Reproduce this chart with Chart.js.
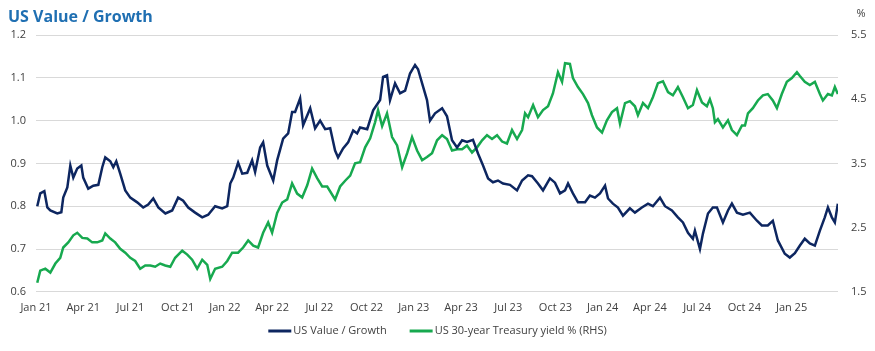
<!DOCTYPE html>
<html>
<head>
<meta charset="utf-8">
<title>US Value / Growth</title>
<script src="https://cdn.jsdelivr.net/npm/chart.js@4.4.0/dist/chart.umd.min.js"></script>
<style>
    html, body { margin: 0; padding: 0; background: #ffffff; }
    #chartWrap { width: 875px; height: 351px; }
</style>
</head>
<body>
<div id="chartWrap"><canvas id="valueGrowthChart" width="875" height="351"></canvas></div>
<script>
// Text
const chartTitle = 'US Value / Growth';
const rightUnit = '%';
const xTickLabels = ['Jan 21', 'Apr 21', 'Jul 21', 'Oct 21', 'Jan 22', 'Apr 22', 'Jul 22', 'Oct 22',
    'Jan 23', 'Apr 23', 'Jul 23', 'Oct 23', 'Jan 24', 'Apr 24', 'Jul 24', 'Oct 24', 'Jan 25'];
const seriesNames = ['US Value / Growth', 'US 30-year Treasury yield % (RHS)'];

// US Value / Growth ratio (x = months since Jan 2021)
const vgMonths = [
    0.08, 0.27, 0.53, 0.72, 0.91, 1.35, 1.61, 1.73, 1.99, 2.18,
    2.37, 2.62, 2.88, 3.00, 3.32, 3.64, 3.96, 4.21, 4.40, 4.72,
    4.91, 5.10, 5.35, 5.67, 5.99, 6.43, 6.81, 7.13, 7.45, 7.77,
    8.22, 8.65, 9.03, 9.35, 9.67, 10.11, 10.56, 10.94, 11.38, 11.83,
    12.15, 12.34, 12.53, 12.84, 13.10, 13.42, 13.73, 13.92, 14.24, 14.43,
    14.69, 15.07, 15.32, 15.70, 16.02, 16.27, 16.46, 16.78, 16.97, 17.42,
    17.73, 18.05, 18.37, 18.69, 19.00, 19.19, 19.51, 19.83, 20.15, 20.40,
    20.59, 21.04, 21.42, 21.86, 22.05, 22.30, 22.49, 22.81, 23.13, 23.45,
    23.76, 24.08, 24.27, 24.53, 24.84, 25.03, 25.35, 25.80, 26.11, 26.43,
    26.75, 27.07, 27.38, 27.76, 28.08, 28.40, 28.72, 29.03, 29.35, 29.67,
    30.11, 30.56, 30.88, 31.26, 31.51, 31.89, 32.21, 32.65, 32.97, 33.29,
    33.61, 33.80, 34.11, 34.43, 34.88, 35.19, 35.51, 35.83, 36.15, 36.34,
    36.65, 36.97, 37.29, 37.73, 38.05, 38.49, 38.88, 39.19, 39.64, 39.96,
    40.40, 40.78, 41.10, 41.42, 41.73, 41.86, 42.18, 42.37, 42.69, 43.00,
    43.26, 43.64, 43.96, 44.21, 44.53, 44.91, 45.35, 45.80, 46.11, 46.49,
    46.81, 47.13, 47.57, 47.89, 48.21, 48.53, 48.84, 49.16, 49.48, 49.80,
    50.11, 50.31, 50.56, 50.75, 50.94
];
const vgValues = [
    0.800, 0.830, 0.835, 0.797, 0.790, 0.783, 0.786, 0.820, 0.844, 0.895,
    0.867, 0.888, 0.895, 0.867, 0.841, 0.848, 0.850, 0.891, 0.914, 0.905,
    0.891, 0.905, 0.876, 0.837, 0.820, 0.809, 0.797, 0.804, 0.818, 0.797,
    0.783, 0.790, 0.820, 0.813, 0.797, 0.785, 0.774, 0.780, 0.800, 0.795,
    0.800, 0.853, 0.867, 0.902, 0.876, 0.878, 0.907, 0.880, 0.937, 0.949,
    0.895, 0.860, 0.907, 0.958, 0.970, 1.020, 1.020, 1.052, 0.989, 1.029,
    0.982, 1.000, 0.980, 0.982, 0.930, 0.914, 0.935, 0.949, 0.977, 0.970,
    0.984, 0.980, 1.024, 1.048, 1.102, 1.106, 1.048, 1.087, 1.064, 1.070,
    1.110, 1.130, 1.120, 1.087, 1.048, 1.000, 1.017, 1.029, 1.010, 0.954,
    0.937, 0.954, 0.950, 0.955, 0.923, 0.895, 0.865, 0.856, 0.860, 0.853,
    0.850, 0.837, 0.860, 0.872, 0.870, 0.853, 0.837, 0.865, 0.855, 0.830,
    0.837, 0.853, 0.830, 0.809, 0.809, 0.825, 0.820, 0.830, 0.848, 0.818,
    0.806, 0.797, 0.778, 0.795, 0.785, 0.797, 0.806, 0.800, 0.820, 0.800,
    0.790, 0.774, 0.762, 0.738, 0.724, 0.743, 0.700, 0.736, 0.783, 0.797,
    0.797, 0.762, 0.790, 0.806, 0.785, 0.780, 0.785, 0.766, 0.755, 0.755,
    0.766, 0.720, 0.689, 0.680, 0.690, 0.708, 0.724, 0.713, 0.708, 0.743,
    0.774, 0.797, 0.774, 0.762, 0.806
];

// US 30-year Treasury yield, % (right axis)
const tyMonths = [
    0.08, 0.27, 0.59, 0.91, 1.23, 1.54, 1.73, 2.05, 2.37, 2.62,
    2.94, 3.26, 3.57, 3.89, 4.21, 4.40, 4.72, 5.03, 5.35, 5.67,
    5.99, 6.30, 6.62, 6.94, 7.26, 7.57, 7.89, 8.21, 8.53, 8.84,
    9.29, 9.61, 9.92, 10.24, 10.56, 10.88, 11.07, 11.38, 11.83, 12.15,
    12.46, 12.84, 13.16, 13.48, 13.80, 14.11, 14.43, 14.75, 15.00, 15.32,
    15.64, 15.96, 16.27, 16.59, 16.91, 17.23, 17.54, 17.86, 18.18, 18.50,
    19.00, 19.32, 19.64, 19.96, 20.27, 20.59, 20.91, 21.23, 21.54, 21.73,
    21.99, 22.30, 22.62, 22.94, 23.26, 23.58, 23.89, 24.21, 24.53, 24.84,
    25.16, 25.48, 25.80, 26.11, 26.43, 26.75, 27.07, 27.38, 27.70, 28.02,
    28.34, 28.65, 28.97, 29.29, 29.61, 29.92, 30.24, 30.56, 30.88, 31.07,
    31.26, 31.58, 31.89, 32.21, 32.53, 32.84, 33.16, 33.42, 33.61, 33.92,
    34.11, 34.43, 34.75, 35.07, 35.32, 35.64, 35.96, 36.27, 36.59, 36.91,
    37.10, 37.42, 37.73, 38.05, 38.24, 38.56, 38.88, 39.19, 39.51, 39.83,
    40.15, 40.46, 40.78, 41.10, 41.42, 41.73, 41.99, 42.31, 42.62, 42.81,
    43.00, 43.13, 43.32, 43.64, 43.96, 44.21, 44.53, 44.85, 45.04, 45.23,
    45.54, 45.86, 46.18, 46.49, 46.81, 47.07, 47.38, 47.70, 48.02, 48.34,
    48.53, 48.84, 49.16, 49.48, 49.80, 49.99, 50.31, 50.56, 50.75, 50.94
];
const tyYields = [
    1.64, 1.83, 1.86, 1.80, 1.94, 2.03, 2.19, 2.27, 2.38, 2.42,
    2.34, 2.33, 2.27, 2.27, 2.30, 2.41, 2.33, 2.27, 2.17, 2.11,
    2.03, 1.98, 1.86, 1.91, 1.91, 1.89, 1.94, 1.91, 1.89, 2.03,
    2.14, 2.08, 2.00, 1.86, 2.00, 1.92, 1.70, 1.86, 1.89, 1.98,
    2.11, 2.11, 2.19, 2.30, 2.22, 2.19, 2.42, 2.58, 2.42, 2.73,
    2.89, 2.94, 3.19, 3.03, 2.97, 3.16, 3.42, 3.27, 3.14, 3.14,
    2.94, 3.14, 3.23, 3.31, 3.50, 3.52, 3.75, 3.89, 4.14, 4.33,
    4.08, 4.28, 3.91, 3.78, 3.44, 3.66, 3.91, 3.70, 3.55, 3.60,
    3.66, 3.86, 3.94, 3.88, 3.70, 3.72, 3.72, 3.78, 3.67, 3.75,
    3.86, 3.94, 3.88, 3.94, 3.84, 3.81, 4.02, 3.88, 4.02, 4.28,
    4.22, 4.41, 4.22, 4.33, 4.39, 4.59, 4.92, 4.77, 5.06, 5.05,
    4.83, 4.69, 4.58, 4.44, 4.25, 4.06, 3.98, 4.17, 4.30, 4.36,
    4.12, 4.44, 4.47, 4.39, 4.25, 4.44, 4.36, 4.53, 4.75, 4.78,
    4.61, 4.56, 4.69, 4.53, 4.36, 4.41, 4.64, 4.45, 4.39, 4.50,
    4.36, 4.14, 4.19, 4.06, 4.17, 4.02, 3.94, 4.09, 4.09, 4.28,
    4.36, 4.48, 4.56, 4.58, 4.48, 4.36, 4.58, 4.77, 4.83, 4.92,
    4.86, 4.77, 4.72, 4.77, 4.58, 4.48, 4.58, 4.56, 4.69, 4.58
];

const navy = '#0d2660';
const green = '#17a94f';
const tickColor = '#404040';
const fontFamily = '"Open Sans", "Liberation Sans", sans-serif';

function toPoints(xs, ys) {
    return xs.map((x, i) => ({ x: x, y: ys[i] }));
}

// Title, "%" unit above the right axis, and the bottom legend
const headerAndLegend = {
    id: 'headerAndLegend',
    afterDraw(chart) {
        const ctx = chart.ctx;
        ctx.save();

        // title
        ctx.font = 'bold 16px ' + fontFamily;
        ctx.fillStyle = '#1f6fb2';
        ctx.textAlign = 'left';
        ctx.textBaseline = 'alphabetic';
        ctx.fillText(chartTitle, 8, 22);

        // unit of the right axis
        const right = chart.scales.yRight;
        ctx.font = '11px ' + fontFamily;
        ctx.fillStyle = tickColor;
        ctx.textAlign = 'center';
        ctx.textBaseline = 'middle';
        ctx.fillText(rightUnit, right.left + 23, 14);

        // legend: short line, then label, items centred under the chart
        const sample = 23, gap = 2, itemGap = 23, legendY = 331;
        const items = chart.data.datasets.map(ds => ({
            text: ds.label,
            color: ds.borderColor,
            width: sample + gap + ctx.measureText(ds.label).width
        }));
        const total = items.reduce((s, it) => s + it.width, 0) + itemGap * (items.length - 1);
        let x = (chart.width - total) / 2;
        ctx.textAlign = 'left';
        items.forEach(it => {
            ctx.strokeStyle = it.color;
            ctx.lineWidth = 3;
            ctx.beginPath();
            ctx.moveTo(x, legendY);
            ctx.lineTo(x + sample, legendY);
            ctx.stroke();
            ctx.fillStyle = tickColor;
            ctx.fillText(it.text, x + sample + gap, legendY);
            x += it.width + itemGap;
        });

        ctx.restore();
    }
};

document.addEventListener('DOMContentLoaded', function() {
    const ctx = document.getElementById('valueGrowthChart').getContext('2d');

    new Chart(ctx, {
        type: 'line',
        data: {
            datasets: [{
                label: seriesNames[0],
                data: toPoints(vgMonths, vgValues),
                yAxisID: 'yLeft',
                borderColor: navy,
                backgroundColor: navy,
                borderWidth: 2.5,
                pointRadius: 0,
                tension: 0
            }, {
                label: seriesNames[1],
                data: toPoints(tyMonths, tyYields),
                yAxisID: 'yRight',
                borderColor: green,
                backgroundColor: green,
                borderWidth: 2.5,
                pointRadius: 0,
                tension: 0
            }]
        },
        options: {
            responsive: false,
            animation: false,
            layout: { padding: { top: 35, bottom: 28, left: 0, right: 0 } },
            scales: {
                x: {
                    type: 'linear',
                    min: 0,
                    max: 50.95,
                    grid: { display: false, drawTicks: false },
                    border: { display: false },
                    ticks: {
                        stepSize: 3,
                        includeBounds: false,
                        autoSkip: false,
                        maxRotation: 0,
                        padding: 9,
                        color: tickColor,
                        font: { family: fontFamily, size: 11 },
                        callback: function(value) {
                            const i = Math.round(value / 3);
                            if (Math.abs(value - i * 3) > 0.01 || i >= xTickLabels.length) return '';
                            return xTickLabels[i];
                        }
                    }
                },
                yLeft: {
                    position: 'left',
                    min: 0.6,
                    max: 1.2,
                    afterFit(scale) { scale.width = 36; },
                    grid: { color: '#d9d9d9', lineWidth: 1, drawTicks: false },
                    border: { display: false },
                    ticks: {
                        stepSize: 0.1,
                        padding: 10,
                        color: tickColor,
                        font: { family: fontFamily, size: 11 },
                        callback: v => v.toFixed(1)
                    }
                },
                yRight: {
                    position: 'right',
                    min: 1.5,
                    max: 5.5,
                    afterFit(scale) { scale.width = 37; },
                    grid: { display: false, drawTicks: false },
                    border: { display: false },
                    ticks: {
                        stepSize: 1,
                        padding: 13,
                        color: tickColor,
                        font: { family: fontFamily, size: 11 },
                        callback: v => v.toFixed(1)
                    }
                }
            },
            plugins: {
                title: { display: false },
                legend: { display: false },
                tooltip: { enabled: false }
            }
        },
        plugins: [headerAndLegend]
    });
});
</script>
</body>
</html>
